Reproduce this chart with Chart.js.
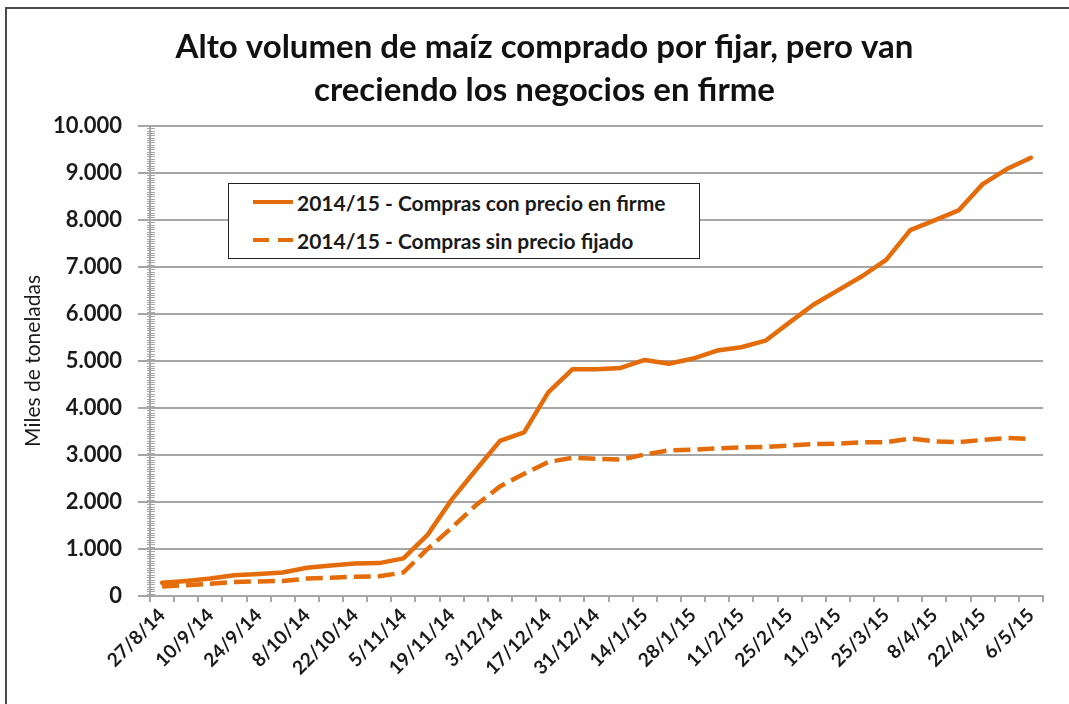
<!DOCTYPE html>
<html>
<head>
<meta charset="utf-8">
<script src="https://cdn.jsdelivr.net/npm/chart.js@4.4.1/dist/chart.umd.min.js"></script>
<style>
  html, body { margin: 0; padding: 0; background: #fff; overflow: hidden; }
  #wrap { position: relative; width: 1069px; height: 704px; }
  #frame { position: absolute; left: 5px; top: 7px; width: 1100px; height: 800px; border: 2px solid #4a4a4a; box-sizing: border-box; pointer-events: none; }
  canvas { position: absolute; left: 0; top: 0; }
  #legend { position: absolute; left: 228px; top: 183px; width: 472px; height: 76px; border: 1.5px solid #222; box-sizing: border-box; background: #fff;
            font-family: Lato, "Open Sans", sans-serif; font-weight: bold; font-size: 21px; color: #1a1a1a; }
  .row { position: absolute; left: 24px; height: 26px; display: flex; align-items: center; white-space: nowrap; }
  .sw { width: 40px; height: 0; margin-right: 4px; }
</style>
</head>
<body>
<div id="wrap">
  <canvas id="c" width="1069" height="704"></canvas>
  <div id="frame"></div>
  <div id="legend">
    <div class="row" style="top:5px"><div class="sw" style="border-top:4.5px solid #E46C0A"></div><span id="l0"></span></div>
    <div class="row" style="top:43px"><div class="sw" style="border-top:4.5px dashed #E46C0A; border-image: repeating-linear-gradient(to right,#E46C0A 0 17px,transparent 17px 24px) 5;"></div><span id="l1"></span></div>
  </div>
</div>
<script>
const categories = ["27/8/14","3/9/14","10/9/14","17/9/14","24/9/14","1/10/14","8/10/14","15/10/14","22/10/14","29/10/14",
  "5/11/14","12/11/14","19/11/14","26/11/14","3/12/14","10/12/14","17/12/14","24/12/14","31/12/14","7/1/15",
  "14/1/15","21/1/15","28/1/15","4/2/15","11/2/15","18/2/15","25/2/15","4/3/15","11/3/15","18/3/15",
  "25/3/15","1/4/15","8/4/15","15/4/15","22/4/15","29/4/15","6/5/15"];
const seriesNames = ["2014/15 - Compras con precio en firme", "2014/15 - Compras sin precio fijado"];
const firme = [280, 320, 370, 440, 470, 500, 600, 650, 690, 700, 800, 1300, 2050, 2680, 3300, 3480, 4330, 4820, 4820, 4850,
  5020, 4940, 5050, 5220, 5290, 5430, 5820, 6200, 6500, 6800, 7150, 7780, 7990, 8200, 8760, 9080, 9320];
const sinPrecio = [200, 230, 260, 300, 310, 320, 370, 390, 410, 420, 500, 1000, 1450, 1930, 2330, 2600, 2850, 2940, 2920, 2900,
  3010, 3100, 3110, 3140, 3160, 3170, 3200, 3230, 3240, 3270, 3270, 3350, 3290, 3270, 3320, 3360, 3340];
const yTicks = [0, 1000, 2000, 3000, 4000, 5000, 6000, 7000, 8000, 9000, 10000];
const titleLines = ["Alto volumen de maíz comprado por fijar, pero van", "creciendo los negocios en firme"];
const yTitle = "Miles de toneladas";

document.getElementById('l0').textContent = seriesNames[0];
document.getElementById('l1').textContent = seriesNames[1];

const fmt = v => String(v).replace(/\B(?=(\d{3})+(?!\d))/g, '.');
const ORANGE = '#E46C0A';
const GRID = '#a6a6a6';
const FONT = 'Lato, "Open Sans", sans-serif';

const minorTicks = {
  id: 'minorTicks',
  afterDraw(chart) {
    const y = chart.scales.y, ctx = chart.ctx;
    const x0 = chart.chartArea.left;
    ctx.save();
    ctx.strokeStyle = GRID; ctx.lineWidth = 1;
    for (let v = 0; v <= 10000; v += 50) {
      if (v % 1000 === 0) continue;
      const py = Math.round(y.getPixelForValue(v)) + 0.5;
      ctx.beginPath(); ctx.moveTo(x0 - 3, py); ctx.lineTo(x0 + 5, py); ctx.stroke();
    }
    ctx.restore();
  }
};

new Chart(document.getElementById('c'), {
  type: 'line',
  data: {
    labels: categories,
    datasets: [
      { label: seriesNames[0], data: firme, borderColor: ORANGE, borderWidth: 4.5, pointRadius: 0, tension: 0, borderCapStyle: 'round', borderJoinStyle: 'round' },
      { label: seriesNames[1], data: sinPrecio, borderColor: ORANGE, borderWidth: 4.5, borderDash: [17, 7], pointRadius: 0, tension: 0, borderCapStyle: 'butt' }
    ]
  },
  options: {
    responsive: false, animation: false, devicePixelRatio: 1,
    layout: { padding: { left: 46, right: 26, top: 0, bottom: 0 } },
    plugins: {
      legend: { display: false }, tooltip: { enabled: false },
      title: { display: true, text: titleLines, color: '#111', font: { family: FONT, size: 33, weight: 'bold', lineHeight: 1.3 },
               padding: { top: 26, bottom: 14 } }
    },
    scales: {
      x: {
        type: 'category', offset: true,
        grid: { offset: true, drawOnChartArea: false, drawTicks: true, tickLength: 6, color: GRID, lineWidth: 2 },
        border: { display: true, color: GRID, width: 2 },
        ticks: { autoSkip: false, maxRotation: 45, minRotation: 45, color: '#1a1a1a', padding: 2,
                 font: { family: FONT, size: 19, weight: 'bold' },
                 callback: function(v, i) { return i % 2 === 0 ? this.getLabelForValue(v) : ''; } },
        afterFit: s => { s.height = 108; }
      },
      y: {
        min: 0, max: 10000,
        afterBuildTicks: s => { s.ticks = yTicks.map(v => ({ value: v })); },
        grid: { color: GRID, lineWidth: 2, drawTicks: true, tickLength: 12 },
        border: { display: true, color: GRID, width: 2 },
        ticks: { color: '#1a1a1a', padding: 16, font: { family: FONT, size: 22, weight: 'bold' }, callback: v => fmt(v) },
        title: { display: true, text: yTitle, color: '#1a1a1a', font: { family: FONT, size: 21 }, padding: { top: -25, bottom: 0 } },
        afterFit: s => { s.width = 104; }
      }
    }
  },
  plugins: [minorTicks]
});
</script>
</body>
</html>
